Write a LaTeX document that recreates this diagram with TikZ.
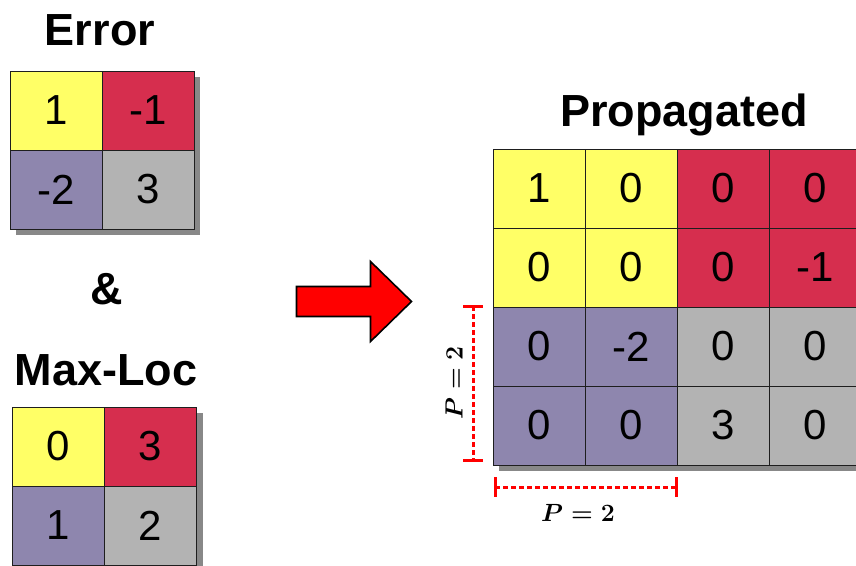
\documentclass[tikz,border=0pt]{standalone}
\usepackage{fontspec}
\setmainfont{Liberation Sans}
\usetikzlibrary{positioning,calc,backgrounds}
\definecolor{cellyellow}{RGB}{255,255,102}
\definecolor{cellred}{RGB}{214,46,78}
\definecolor{cellpurple}{RGB}{142,134,174}
\definecolor{cellgray}{RGB}{179,179,179}
\definecolor{shadowgray}{RGB}{136,136,136}
\definecolor{lineblack}{RGB}{30,30,30}
\definecolor{dimred}{RGB}{255,0,0}

\begin{document}
\begin{tikzpicture}[
  x=1pt, y=-1pt,
  node distance=0pt,
  cell/.style={rectangle, draw=lineblack, line width=0.8pt, minimum width=92pt, minimum height=79pt, inner sep=0pt, outer sep=0pt, font=\fontsize{42}{42}\selectfont},
  heading/.style={anchor=base, font=\fontsize{45}{45}\selectfont\bfseries},
  shade/.style={fill=shadowgray},
  dimline/.style={draw=dimred, line width=3pt, dash pattern=on 4.5pt off 3.5pt},
  dimtick/.style={draw=dimred, line width=3pt},
  plabel/.style={font=\fontsize{30}{30}\selectfont\boldmath},
  bigarrow/.style={draw=black, fill=dimred, line width=1.6pt, line join=miter}
]
\useasboundingbox (0,0) rectangle (856,565);

\node[heading] (errt) at (100,45) {Error};
\node[cell, fill=cellyellow, anchor=north west] (e11) at (10,71) {1};
\node[cell, fill=cellred, right=of e11] (e12) {-1};
\node[cell, fill=cellpurple, below=of e11] (e21) {-2};
\node[cell, fill=cellgray, right=of e21] (e22) {3};

\node[heading] (amp) at (107,304) {\&};

\node[heading] (maxt) at (106,385) {Max-Loc};
\node[cell, fill=cellyellow, anchor=north west] (m11) at (12.5,407) {0};
\node[cell, fill=cellred, right=of m11] (m12) {3};
\node[cell, fill=cellpurple, below=of m11] (m21) {1};
\node[cell, fill=cellgray, right=of m21] (m22) {2};

\node[heading] (propt) at (684,126.5) {Propagated};
\node[cell, fill=cellyellow, anchor=north west] (p11) at (493,149) {1};
\node[cell, fill=cellyellow, right=of p11] (p12) {0};
\node[cell, fill=cellred, right=of p12] (p13) {0};
\node[cell, fill=cellred, right=of p13] (p14) {0};
\node[cell, fill=cellyellow, below=of p11] (p21) {0};
\node[cell, fill=cellyellow, right=of p21] (p22) {0};
\node[cell, fill=cellred, right=of p22] (p23) {0};
\node[cell, fill=cellred, right=of p23] (p24) {-1};
\node[cell, fill=cellpurple, below=of p21] (p31) {0};
\node[cell, fill=cellpurple, right=of p31] (p32) {-2};
\node[cell, fill=cellgray, right=of p32] (p33) {0};
\node[cell, fill=cellgray, right=of p33] (p34) {0};
\node[cell, fill=cellpurple, below=of p31] (p41) {0};
\node[cell, fill=cellpurple, right=of p41] (p42) {0};
\node[cell, fill=cellgray, right=of p42] (p43) {3};
\node[cell, fill=cellgray, right=of p43] (p44) {0};

\begin{scope}[on background layer]
\fill[shade] ($(e11.north west)+(6,6)$) rectangle ($(e22.south east)+(6,6)$);
\fill[shade] ($(m11.north west)+(6,6)$) rectangle ($(m22.south east)+(6,6)$);
\fill[shade] ($(p11.north west)+(6,6)$) rectangle ($(p44.south east)+(6,6)$);
\end{scope}

\draw[bigarrow] (296.5,286.5) -- (370.5,286.5) -- (370.5,261.5) -- (411.5,301.5) -- (370.5,341.5) -- (370.5,316.5) -- (296.5,316.5) -- cycle;

\coordinate (vtop) at ($(p31.north west)+(-20,-1)$);
\coordinate (vbot) at ($(p41.south west)+(-20,-5)$);
\coordinate (hleft) at ($(p41.south west)+(2,22)$);
\coordinate (hright) at ($(p42.south east)+(-1,22)$);

\draw[dimline] (vtop) -- (vbot);
\draw[dimtick] ($(vtop)+(-10,0)$) -- ($(vtop)+(10,0)$);
\draw[dimtick] ($(vbot)+(-10,0)$) -- ($(vbot)+(10,0)$);
\draw[dimline] (hleft) -- (hright);
\draw[dimtick] ($(hleft)+(0,-10)$) -- ($(hleft)+(0,10)$);
\draw[dimtick] ($(hright)+(0,-10)$) -- ($(hright)+(0,10)$);

\node[plabel, rotate=90] (pv) at (454,383) {$P=2$};
\node[plabel] (ph) at (578,513) {$P=2$};
\end{tikzpicture}
\end{document}
